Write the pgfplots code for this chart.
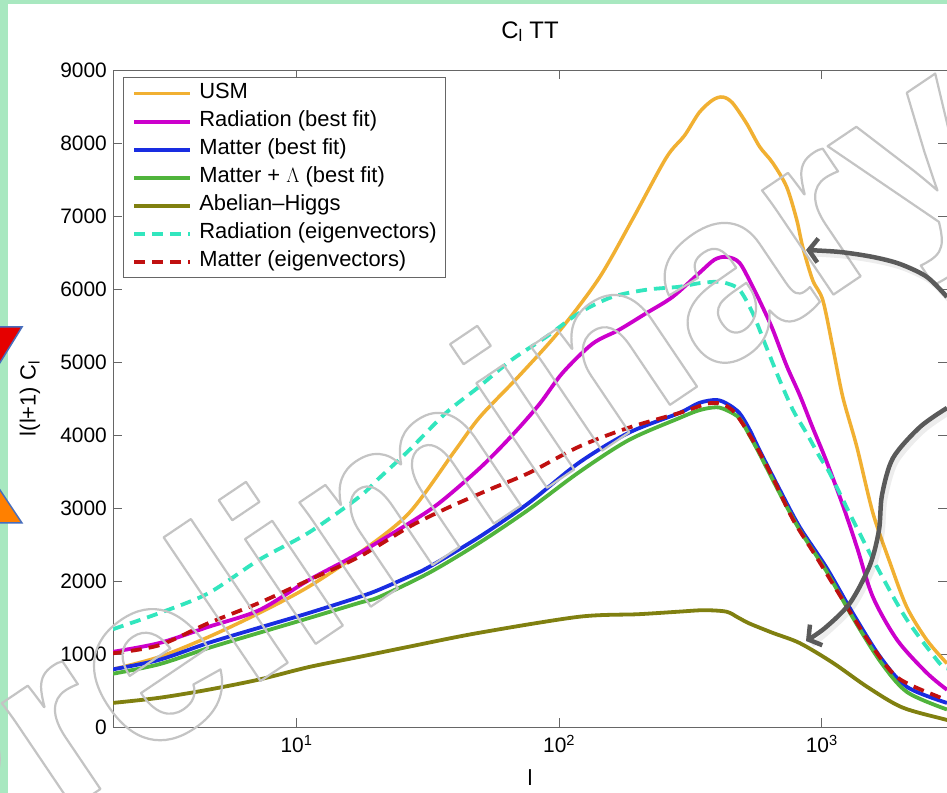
\documentclass[border=0pt]{standalone}
\usepackage{fontspec}
\setmainfont{Liberation Sans}
\usepackage{pgfplots}
\usepackage{pgfplotstable}
\pgfplotsset{compat=1.18}
\usetikzlibrary{arrows.meta}

\definecolor{slidegreen}{RGB}{168,232,192}
\definecolor{usm}{RGB}{241,176,50}
\definecolor{radfit}{RGB}{204,0,204}
\definecolor{matfit}{RGB}{25,45,225}
\definecolor{matlam}{RGB}{80,180,60}
\definecolor{ahiggs}{RGB}{128,128,16}
\definecolor{radeig}{RGB}{50,230,190}
\definecolor{mateig}{RGB}{192,16,16}
\definecolor{arrowgray}{RGB}{90,90,90}
\definecolor{wmgray}{RGB}{196,196,196}
\definecolor{triblue}{RGB}{70,110,190}

% l(l+1) C_l for each string model
\pgfplotstableread{
l y
2 790
3 960
4.6 1230
7.2 1560
11.1 1920
17.3 2380
26.8 2930
40 3780
50 4250
70 4800
100 5420
142 6150
190 6950
256 7800
300 8100
342 8420
385 8590
420 8630
457 8550
517 8270
580 7950
650 7730
735 7400
803 6950
846 6580
924 6120
1009 5850
1102 5200
1203 4520
1360 3840
1567 2930
1820 2250
2110 1640
2515 1190
3000 870
}\usmtab

\pgfplotstableread{
l y
2 1030
3 1150
4.6 1370
7.2 1600
11.1 2010
17.3 2380
26.8 2790
35 3070
50 3550
66 3990
84 4420
103 4850
134 5250
169 5440
215 5670
270 5890
342 6220
390 6400
433 6440
486 6360
546 6030
596 5750
650 5450
735 4950
824 4550
924 4100
1040 3650
1200 3050
1360 2470
1567 1780
1940 1190
2515 740
3000 510
}\radfittab

\pgfplotstableread{
l y
2 790
3 920
4.6 1150
7.2 1360
11.1 1560
17.3 1780
20.6 1880
26.8 2060
31.9 2190
49.5 2600
76.7 3070
119 3620
184 4030
286 4300
342 4440
398 4480
440 4420
486 4300
530 4080
580 3790
692 3250
824 2740
1040 2190
1313 1560
1670 960
2110 550
3000 330
}\matfittab

\pgfplotstableread{
l y
2 730
3 860
4.6 1080
7.2 1290
11.1 1490
17.3 1700
20.6 1780
31.9 2110
49.5 2520
76.7 2980
119 3490
184 3930
286 4230
342 4340
398 4380
440 4330
486 4230
530 4000
580 3740
692 3200
824 2700
1040 2140
1313 1500
1670 900
2110 480
3000 240
}\matlamtab

\pgfplotstableread{
l y
2 330
3 400
4.6 510
7.2 650
11.1 820
17.3 960
26.8 1100
49.5 1290
119 1510
200 1545
286 1580
356 1600
433 1580
480 1500
529 1420
650 1290
824 1150
1102 880
1490 550
2020 270
2900 110
3000 100
}\ahtab

\pgfplotstableread{
l y
2 1340
3 1560
4.6 1830
7.2 2290
11.1 2660
17.3 3150
20.5 3400
26.8 3790
37 4300
49.5 4660
66 5030
89 5340
119 5670
159 5890
215 5990
286 6030
342 6080
400 6100
433 6080
486 5990
546 5670
616 5200
692 4750
778 4340
877 4020
983 3700
1072 3480
1313 2840
1670 2110
2110 1470
2800 880
3000 800
}\radeigtab

\pgfplotstableread{
l y
2 1010
3 1120
4.6 1420
7.2 1700
11.1 2010
17.3 2330
26.8 2740
37 2990
54 3250
76.7 3480
119 3840
184 4100
286 4300
383 4440
457 4340
546 3930
650 3420
778 2840
954 2330
1203 1740
1526 1150
1940 680
2800 410
3000 390
}\mateigtab

\begin{document}
\begin{tikzpicture}
\useasboundingbox (0,0) rectangle (947bp,793bp);
% slide background
\fill[white] (0,0) rectangle (947bp,793bp);
\fill[slidegreen] (0,0) rectangle (8bp,793bp);
\fill[slidegreen] (0,789bp) rectangle (947bp,793bp);

\begin{axis}[
  at={(113bp,66bp)}, anchor=south west,
  scale only axis, width=834bp, height=657bp,
  xmode=log, log basis x=10,
  xmin=2, xmax=3000, ymin=0, ymax=9000,
  axis line style={black!60, line width=0.9bp},
  every tick/.style={black!60, line width=0.9bp},
  major tick length=9bp, minor tick length=5bp,
  xtick={10,100,1000},
  xticklabels={10\textsuperscript{1},10\textsuperscript{2},10\textsuperscript{3}},
  ytick={0,1000,...,9000},
  scaled y ticks=false,
  /pgf/number format/assume math mode=true,
  /pgf/number format/1000 sep={},
  yticklabel style={font=\fontsize{21}{24}\selectfont, inner sep=0pt, anchor=east, xshift=-6bp},
  xticklabel style={font=\fontsize{21}{24}\selectfont, inner sep=0pt, anchor=north, yshift=-8bp},
  title={C\textsubscript{l} TT},
  title style={font=\fontsize{24}{26}\selectfont, at={(axis description cs:0.5,1)}, anchor=base, yshift=26bp},
  xlabel={l},
  xlabel style={font=\fontsize{22}{24}\selectfont, at={(axis description cs:0.5,0)}, anchor=north, yshift=-39bp},
  ylabel={l(l+1) C\textsubscript{l}},
  ylabel style={font=\fontsize{22}{24}\selectfont, at={(axis description cs:-0.0995,0.5)}, anchor=center},
  legend image code/.code={\draw[#1] (0bp,0bp) -- (56bp,0bp);},
  legend style={at={(axis description cs:0.012,0.989)}, anchor=north west,
    draw=black!60, line width=0.9bp, fill=white,
    font=\fontsize{22}{24}\selectfont,
    inner xsep=9bp, inner ysep=6bp, row sep=8bp, column sep=7bp,
    nodes={inner sep=0pt, text height=15bp, text depth=5bp},
    cells={anchor=west}},
  every axis plot/.append style={line width=3.8bp, line join=round},
]
\addplot[usm, line width=3.5bp, smooth] table[x=l, y=y] {\usmtab};
\addlegendentry{USM}
\addplot[radfit, smooth] table[x=l, y=y] {\radfittab};
\addlegendentry{Radiation (best fit)}
\addplot[matfit, smooth] table[x=l, y=y] {\matfittab};
\addlegendentry{Matter (best fit)}
\addplot[matlam, smooth] table[x=l, y=y] {\matlamtab};
\addlegendentry{Matter + $\Lambda$ (best fit)}
\addplot[ahiggs, smooth] table[x=l, y=y] {\ahtab};
\addlegendentry{Abelian--Higgs}
\addplot[radeig, smooth, dash pattern=on 11bp off 7bp] table[x=l, y=y] {\radeigtab};
\addlegendentry{Radiation (eigenvectors)}
\addplot[mateig, smooth, dash pattern=on 11bp off 7bp] table[x=l, y=y] {\mateigtab};
\addlegendentry{Matter (eigenvectors)}
\end{axis}

% watermark, outlined letters
\node[rotate=34, anchor=base west, inner sep=0pt, text=wmgray] at (-73bp,-113bp)
  {\fontsize{240}{240}\selectfont\bfseries\special{pdf:literal direct 1 Tr 2.2 w 1 j}Preliminary\special{pdf:literal direct 0 Tr}};

% slide annotations, drawn in pixel units with y downwards
\begin{scope}[shift={(0,793bp)}, x=1bp, y=-1bp]
  \draw[triblue, line width=1.5bp, fill=red!90!black] (-40,327) -- (22,327) -- (-20,395) -- cycle;
  \draw[triblue, line width=1.5bp, fill=orange] (-20,460) -- (22,523) -- (-62,523) -- cycle;
  \draw[black, opacity=0.07, line width=5bp] plot[smooth] coordinates {(950,301) (930,281) (903,268) (876,261) (843,256) (812,254)};
  \draw[black, opacity=0.07, line width=5bp] plot[smooth] coordinates {(950,412) (923,431) (896,462) (885,499) (882,534) (873,569) (853,607) (828,632) (812,645)};
  \draw[arrowgray, line width=4.5bp, -{Straight Barb[length=9bp,width=24bp]}] plot[smooth] coordinates {(947,297) (927,277) (900,264) (873,257) (840,252) (806,250)};
  \draw[arrowgray, line width=4.5bp, -{Straight Barb[length=9bp,width=24bp]}] plot[smooth] coordinates {(947,408) (920,427) (893,458) (882,495) (879,530) (870,565) (850,603) (825,628) (806,641)};
\end{scope}
\end{tikzpicture}
\end{document}
